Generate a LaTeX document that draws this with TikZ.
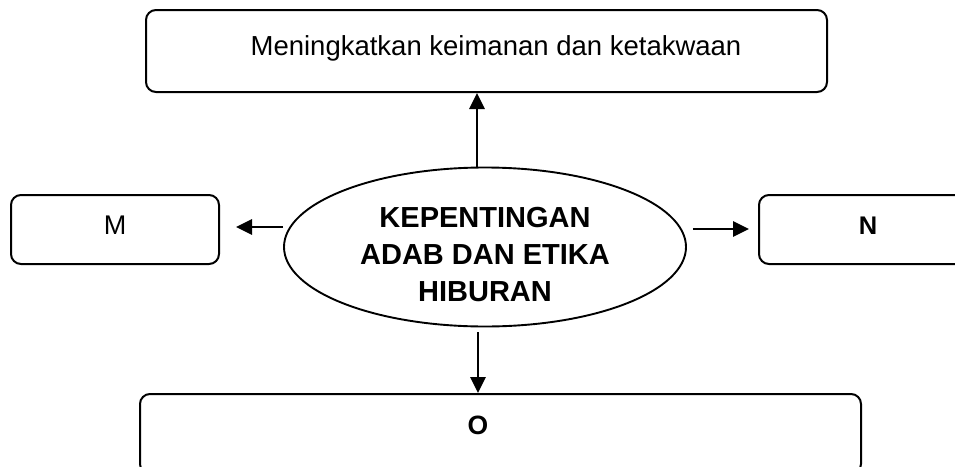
\documentclass[tikz,border=0pt]{standalone}
\usepackage{fontspec}
\setmainfont{Liberation Sans}
\usetikzlibrary{arrows.meta,shapes.geometric}
\begin{document}
\begin{tikzpicture}[x=1pt,y=-1pt,
  box/.style={draw=black,line width=2pt,rounded corners=10pt,inner sep=0pt,anchor=north west},
  oval/.style={draw=black,line width=1.9pt,ellipse,inner sep=0pt,minimum width=402pt,minimum height=159pt},
  arr/.style={draw=black,line width=2.8pt,-{Triangle[length=16pt,width=15pt]}},
  lbl/.style={inner sep=0pt}]
\useasboundingbox (0,0) rectangle (955,466);
% boxes
\node[box,minimum width=681pt,minimum height=82pt] (top) at (145,9) {};
\node[box,minimum width=208pt,minimum height=69pt] (M) at (10,194) {};
\node[box,minimum width=215pt,minimum height=69pt] (N) at (758,194) {};
\node[box,minimum width=721pt,minimum height=80pt] (O) at (139,393) {};
\node[oval] (ell) at (485,247) {};
% texts
\node[lbl,anchor=base,font=\fontsize{27.5}{32}\selectfont] (toptxt) at (496,55) {Meningkatkan keimanan dan ketakwaan};
\node[lbl,font=\fontsize{27}{30}\selectfont] (Mtxt) at (115,225) {M};
\node[lbl,font=\fontsize{25.5}{30}\selectfont\bfseries] (Ntxt) at (868,226) {N};
\node[lbl,font=\fontsize{26.5}{30}\selectfont\bfseries] (Otxt) at (478,425) {O};
\node[lbl,align=center,font=\fontsize{29}{37}\selectfont\bfseries] (etxt) at (485,255) {KEPENTINGAN\\ADAB DAN ETIKA\\HIBURAN};
% connectors
\draw[arr] ([xshift=-8pt]ell.north) -- ([xshift=-8pt]ell.north |- top.south);
\draw[arr,shorten >=16pt] ([yshift=20pt]ell.west) -- ([yshift=20pt]ell.west -| M.east);
\draw[arr,shorten <=6pt,shorten >=9pt] ([yshift=18pt]ell.east) -- ([yshift=18pt]ell.east -| N.west);
\draw[arr,shorten <=5pt] ([xshift=-7pt]ell.south) -- ([xshift=-7pt]ell.south |- O.north);
\end{tikzpicture}
\end{document}
